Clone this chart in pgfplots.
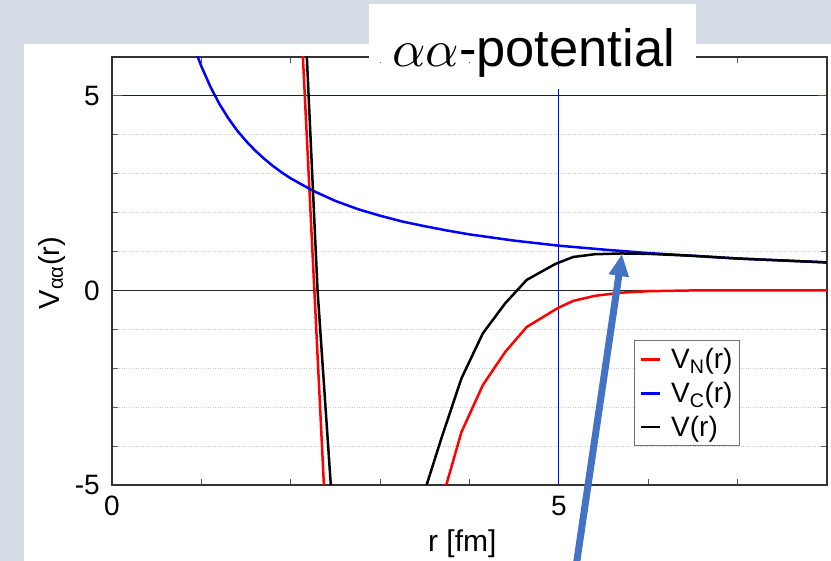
\documentclass[border=0pt]{standalone}
\usepackage{pgfplots}
\pgfplotsset{compat=1.18}
\usepackage{pgfplotstable}
\usepackage{graphicx}
\usepackage{fontspec}
\setmainfont{Liberation Sans}
\usetikzlibrary{arrows.meta}

\definecolor{slidebg}{HTML}{D6DCE5}
\definecolor{arrowblue}{HTML}{4472C4}
\definecolor{vred}{HTML}{FF0000}
\definecolor{vblue}{HTML}{0000FF}

% nuclear part V_N(r) [MeV] vs r [fm]
\pgfplotstableread{
r    V
2.10  7.69
2.40 -6.36
3.00 -40.0
3.60 -6.10
3.74 -5.00
3.91 -3.64
4.15 -2.43
4.40 -1.58
4.64 -0.94
4.99 -0.45
5.16 -0.27
5.40 -0.14
5.68 -0.06
6.00 -0.02
6.50  0.00
8.00  0.00
}\VN

% Coulomb part V_C(r)
\pgfplotstableread{
r    V
0.90 6.40
0.96 6.00
1.00 5.76
1.10 5.24
1.20 4.80
1.30 4.43
1.40 4.11
1.50 3.84
1.60 3.60
1.70 3.39
1.80 3.20
1.90 3.03
2.00 2.88
2.25 2.56
2.50 2.30
2.75 2.09
3.00 1.92
3.25 1.77
3.50 1.65
3.75 1.54
4.00 1.44
4.50 1.28
5.00 1.15
5.50 1.05
6.00 0.96
6.50 0.89
7.00 0.82
7.50 0.77
8.00 0.72
}\VC

% total V(r) = V_N + V_C
\pgfplotstableread{
r    V
2.16  7.00
2.30  0.00
2.46 -5.40
3.00 -40.0
3.45 -5.50
3.52 -5.00
3.69 -3.77
3.91 -2.26
4.15 -1.10
4.40 -0.33
4.64  0.27
4.96  0.68
5.16  0.86
5.40  0.93
5.70  0.95
6.00  0.94
6.50  0.89
7.00  0.82
7.50  0.77
8.00  0.72
}\VT

\begin{document}
\begin{tikzpicture}
% slide background and white panel
\fill[slidebg] (0pt,0pt) rectangle (831pt,561pt);
\fill[white] (24pt,0pt) rectangle (831pt,517pt);

\begin{axis}[
  at={(112pt,76pt)}, anchor=south west,
  width=715pt, height=428pt, scale only axis,
  xmin=0, xmax=8, ymin=-5, ymax=6,
  xtick={0,5}, xticklabels={0,5},
  minor xtick={1,2,3,4,6,7,8},
  ytick={-5,0,5}, yticklabels={-5,0,5},
  minor ytick={-4,-3,-2,-1,1,2,3,4},
  yminorgrids=true,
  minor grid style={dotted, gray!40, line width=0.7pt},
  tick align=inside,
  major tick length=10pt, minor tick length=6pt,
  every tick/.style={black!65, line width=1pt},
  axis line style={black!80, line width=1.2pt},
  tick label style={font=\fontsize{28}{32}\selectfont, inner sep=0pt},
  xticklabel style={anchor=north, yshift=-11pt},
  yticklabel style={anchor=east, xshift=-12pt},
  xlabel={r [fm]},
  xlabel style={at={(axis description cs:0.49,-0.1565)}, anchor=base,
    inner sep=0pt, font=\fontsize{30}{34}\selectfont},
  ylabel={V\textsubscript{αα}(r)},
  ylabel style={at={(axis description cs:-0.074,0.495)}, anchor=base,
    inner sep=0pt, font=\fontsize{29}{33}\selectfont},
  legend style={at={(0.730,0.339)}, anchor=north west,
    draw=black!55, line width=1.2pt,
    font=\fontsize{28}{32}\selectfont,
    inner xsep=5pt, inner ysep=6pt, row sep=8pt},
  legend cell align=left,
  legend image code/.code={%
    \draw[#1, line width=2.8pt] (0pt,0pt) -- (19pt,0pt);
    \path (27pt,0pt);},
]
% reference lines
\addplot[black!85, line width=1pt, forget plot] coordinates {(0,0) (8,0)};
\addplot[vblue, line width=1pt, forget plot] coordinates {(0.11,5) (7.9,5)};
\addplot[vblue, line width=1pt, forget plot] coordinates {(5,-5) (5,5.18)};

\addplot[vred, line width=2.5pt] table[x=r, y=V] {\VN};
\addlegendentry{V\textsubscript{N}(r)}
\addplot[vblue, line width=2.5pt] table[x=r, y=V] {\VC};
\addlegendentry{V\textsubscript{C}(r)}
\addplot[black, line width=2.5pt] table[x=r, y=V] {\VT};
\addlegendentry{V(r)}
\end{axis}

% title box over the top frame
\fill[white] (369pt,499pt) rectangle (696pt,557pt);
\node[anchor=base west, inner sep=0pt, font=\fontsize{52.5}{58}\selectfont]
  at (392pt,494pt) {{\fontsize{10}{12}\selectfont\scalebox{5.2}{$\alpha\alpha$}}-potential};

% pointer to the barrier top
\draw[line width=7pt, arrowblue, -{Triangle[width=19pt,length=22pt]}]
  (576pt,-6pt) -- (622pt,307pt);

\pgfresetboundingbox
\useasboundingbox (0pt,0pt) rectangle (831pt,561pt);
\end{tikzpicture}
\end{document}
